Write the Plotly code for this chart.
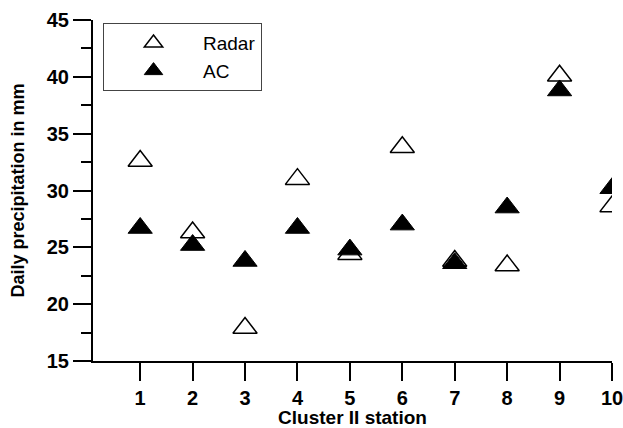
import plotly.graph_objects as go

# Station numbers along the x axis
stations = [1, 2, 3, 4, 5, 6, 7, 8, 9, 10]

# Daily precipitation (mm) per station
radar = [32.6, 26.3, 17.9, 31.0, 24.4, 33.8, 23.8, 23.4, 40.1, 28.6]
ac = [26.7, 25.2, 23.8, 26.7, 24.8, 27.0, 23.6, 28.5, 38.8, 30.2]

y_ticks = [15, 20, 25, 30, 35, 40, 45]

FONT = "Liberation Sans"

fig = go.Figure()

fig.add_trace(go.Scatter(
    x=stations, y=radar, mode="markers", name="Radar",
    marker=dict(symbol="triangle-up", size=21, color="white",
                line=dict(color="black", width=1.5)),
))
fig.add_trace(go.Scatter(
    x=stations, y=ac, mode="markers", name="AC",
    marker=dict(symbol="triangle-up", size=21, color="black",
                line=dict(color="black", width=1)),
))

axis_common = dict(
    showline=True, linecolor="black", linewidth=2,
    ticks="outside", ticklen=18, tickwidth=2, tickcolor="black",
    showgrid=False, zeroline=False, automargin=False,
    ticklabeloverflow="allow",
    tickfont=dict(family=FONT, size=20, color="black", weight="bold"),
)

fig.update_xaxes(
    range=[0.1, 10], tickvals=stations, **axis_common,
    title=dict(text="Cluster II station", standoff=6,
               font=dict(family=FONT, size=19, color="black", weight="bold")),
)
fig.update_yaxes(
    range=[15, 45], tickvals=y_ticks, **axis_common,
    minor=dict(dtick=2.5, ticks="outside", ticklen=10, tickwidth=2, tickcolor="black"),
    title=dict(text="Daily precipitation in mm", standoff=17,
               font=dict(family=FONT, size=18, color="black", weight="bold")),
)

fig.update_layout(
    width=623, height=428,
    margin=dict(l=93, r=11, t=20, b=67),
    plot_bgcolor="white", paper_bgcolor="white",
    showlegend=True,
    legend=dict(
        x=0.0193, y=0.991, xanchor="left", yanchor="top",
        bgcolor="white", bordercolor="#444", borderwidth=1,
        font=dict(family=FONT, size=19, color="black"),
        itemwidth=89, tracegroupgap=0,
    ),
)

fig.write_html("out.html")
